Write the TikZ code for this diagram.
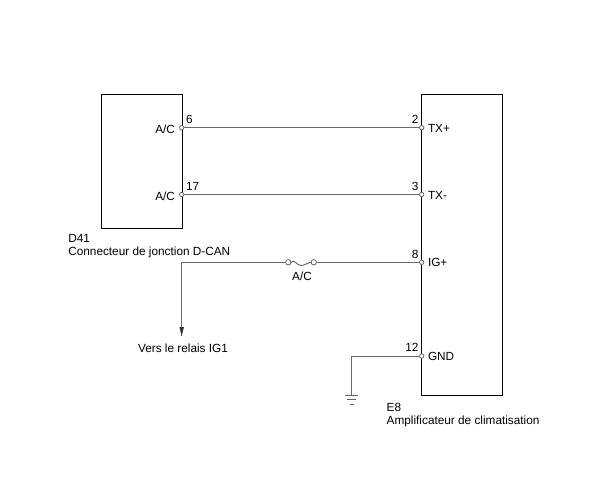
\documentclass[tikz,border=0pt]{standalone}
\usepackage{fontspec}
\setmainfont{Liberation Sans}
\usetikzlibrary{arrows.meta}
\begin{document}
\begin{tikzpicture}[x=1pt,y=-1pt,
  every node/.style={font=\fontsize{11.8}{13}\selectfont, inner sep=0pt, outer sep=0pt},
  box/.style={draw=black, line width=1.2pt, rectangle},
  wire/.style={draw=black!58, line width=1pt},
  pinc/.style={circle, draw=black!60, fill=white, line width=0.8pt, minimum size=4.4pt},
  fusec/.style={pinc, minimum size=5.4pt},
  lbl/.style={anchor=base west},
  rlbl/.style={anchor=base east},
  gnd/.style={draw=black!60, line width=1pt}]
\useasboundingbox (0,0) rectangle (605,493);
\fill[white] (0,0) rectangle (605,493);

% boxes
\node[box, minimum width=81pt, minimum height=134pt] (D) at (141.7,161.2) {};
\node[box, minimum width=81pt, minimum height=301pt] (E) at (462.2,244.7) {};

% pins on D41
\node[pinc] (p6) at (181.7,127.7) {};
\node[pinc] (p17) at (181.7,194.5) {};
% pins on E8
\node[pinc] (p2) at (421.7,127.7) {};
\node[pinc] (p3) at (421.7,194.5) {};
\node[pinc] (p8) at (421.7,262.3) {};
\node[pinc] (p12) at (421.7,356) {};

% fuse
\node[fusec] (fa) at (288.3,262.3) {};
\node[fusec] (fb) at (313.8,262.3) {};

% pin labels
\node[rlbl] (l6) at (175,133.5) {A/C};
\node[lbl] (n6) at (186,123.3) {6};
\node[rlbl] (l17) at (175,200.3) {A/C};
\node[lbl] (n17) at (186,190) {17};

\node[rlbl] (n2) at (418.5,123.3) {2};
\node[lbl] (l2) at (428,132.3) {TX+};
\node[rlbl] (n3) at (418.5,190) {3};
\node[lbl] (l3) at (428,199.3) {TX-};
\node[rlbl] (n8) at (418.5,258) {8};
\node[lbl] (l8) at (428,266.7) {IG+};
\node[rlbl] (n12) at (418.5,351) {12};
\node[lbl] (l12) at (428,360.3) {GND};

% component labels
\node[lbl] (dname) at (68.3,242.2) {D41};
\node[lbl] (ddesc) at (68.3,255) {Connecteur de jonction D-CAN};
\node[lbl] (ename) at (386.7,411) {E8};
\node[lbl] (edesc) at (386.7,424.5) {Amplificateur de climatisation};
\node[anchor=base] (fl) at (302,280) {A/C};
\node[anchor=base] (relais) at (183,352.5) {Vers le relais IG1};

% wires
\draw[wire] (p6) -- (p2);
\draw[wire] (p17) -- (p3);
\draw[wire] (fb) -- (p8);
\coordinate (c1) at (181.7,262.3);
\coordinate (arr) at (181.7,336);
\draw[wire] (fa) -- (c1) -- (arr);
\fill[black!80] (arr) -- ++(-2.3,-9) -- ++(4.6,0) -- cycle;
\draw[wire] (fa.east) .. controls (294,258.5) and (297,265.5) .. (301,265.5)
                      .. controls (305,265.5) and (308,262.3) .. (fb.west);

% ground
\coordinate (g1) at (351.7,356);
\coordinate (g2) at (351.7,395);
\draw[wire] (p12) -- (g1) -- (g2);
\draw[gnd] (345.2,395) -- (358.2,395);
\draw[gnd] (347.2,399.5) -- (356.2,399.5);
\draw[gnd] (349.7,404) -- (353.7,404);
\end{tikzpicture}
\end{document}
